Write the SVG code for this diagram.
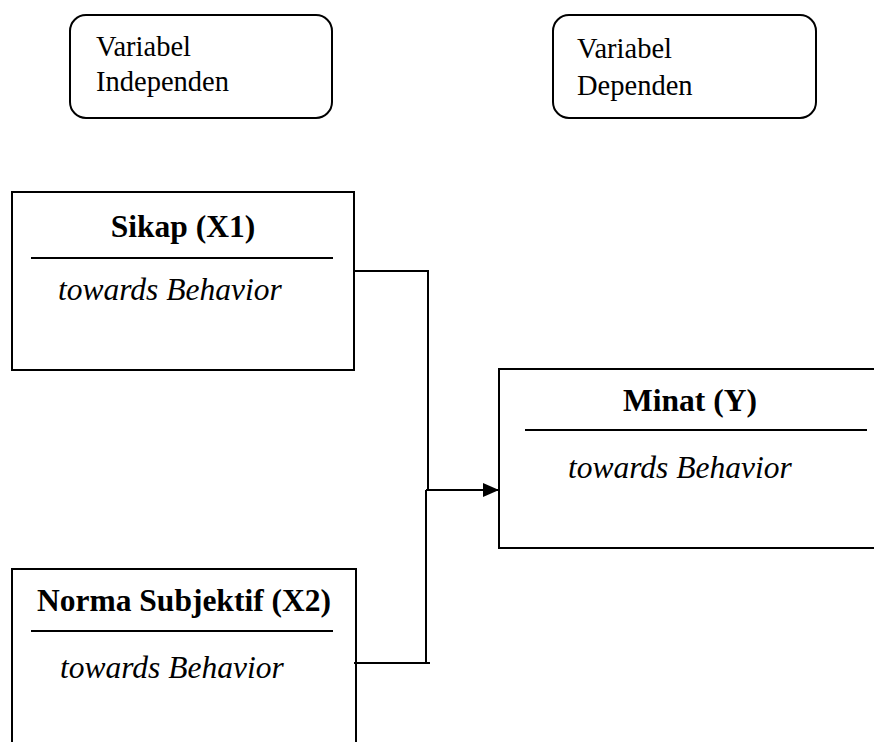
<svg xmlns="http://www.w3.org/2000/svg" width="874" height="742" viewBox="0 0 874 742">
<style>
.box{fill:none;stroke:#000;stroke-width:2}
.sep{stroke:#000;stroke-width:2}
.lab{font-family:"Liberation Serif","Times New Roman",serif;font-size:28.5px;fill:#000}
.ttl{font-family:"Liberation Serif","Times New Roman",serif;font-size:31.5px;font-weight:bold;fill:#000;text-anchor:middle}
.sub{font-family:"Liberation Serif","Times New Roman",serif;font-size:31.5px;font-style:italic;fill:#000}
.con{fill:none;stroke:#000;stroke-width:2}
</style>
<defs>
<marker id="arr" markerWidth="16" markerHeight="14" refX="16" refY="7" orient="auto" markerUnits="userSpaceOnUse">
<path d="M0,0 L16,7 L0,14 Z" fill="#000"/>
</marker>
</defs>
<rect width="874" height="742" fill="#fff"/>
<g id="var-independen">
<rect class="box" x="70" y="15" width="262" height="103" rx="16" ry="16"/>
<text class="lab" x="96" y="56">Variabel</text>
<text class="lab" x="96" y="91">Independen</text>
</g>
<g id="var-dependen">
<rect class="box" x="553" y="15" width="263" height="103" rx="16" ry="16"/>
<text class="lab" x="577" y="58">Variabel</text>
<text class="lab" x="577" y="95">Dependen</text>
</g>
<g id="sikap">
<rect class="box" x="12" y="192" width="342" height="178"/>
<text class="ttl" x="183" y="237">Sikap (X1)</text>
<line class="sep" x1="31" y1="258" x2="333" y2="258"/>
<text class="sub" x="58" y="300">towards Behavior</text>
</g>
<g id="norma">
<rect class="box" x="12" y="569" width="344" height="200"/>
<text class="ttl" x="184" y="611">Norma Subjektif (X2)</text>
<line class="sep" x1="31" y1="631" x2="333" y2="631"/>
<text class="sub" x="60" y="678">towards Behavior</text>
</g>
<g id="minat">
<rect class="box" x="499" y="369" width="390" height="179"/>
<text class="ttl" x="690" y="411">Minat (Y)</text>
<line class="sep" x1="525" y1="430" x2="867" y2="430"/>
<text class="sub" x="568" y="478">towards Behavior</text>
</g>
<g id="connectors">
<polyline class="con" points="354,271 428,271 428,490"/>
<polyline class="con" points="354,663 430,663"/>
<line class="con" x1="426" y1="490" x2="426" y2="663"/>
<line class="con" x1="426" y1="490" x2="499" y2="490" marker-end="url(#arr)"/>
</g>
</svg>
